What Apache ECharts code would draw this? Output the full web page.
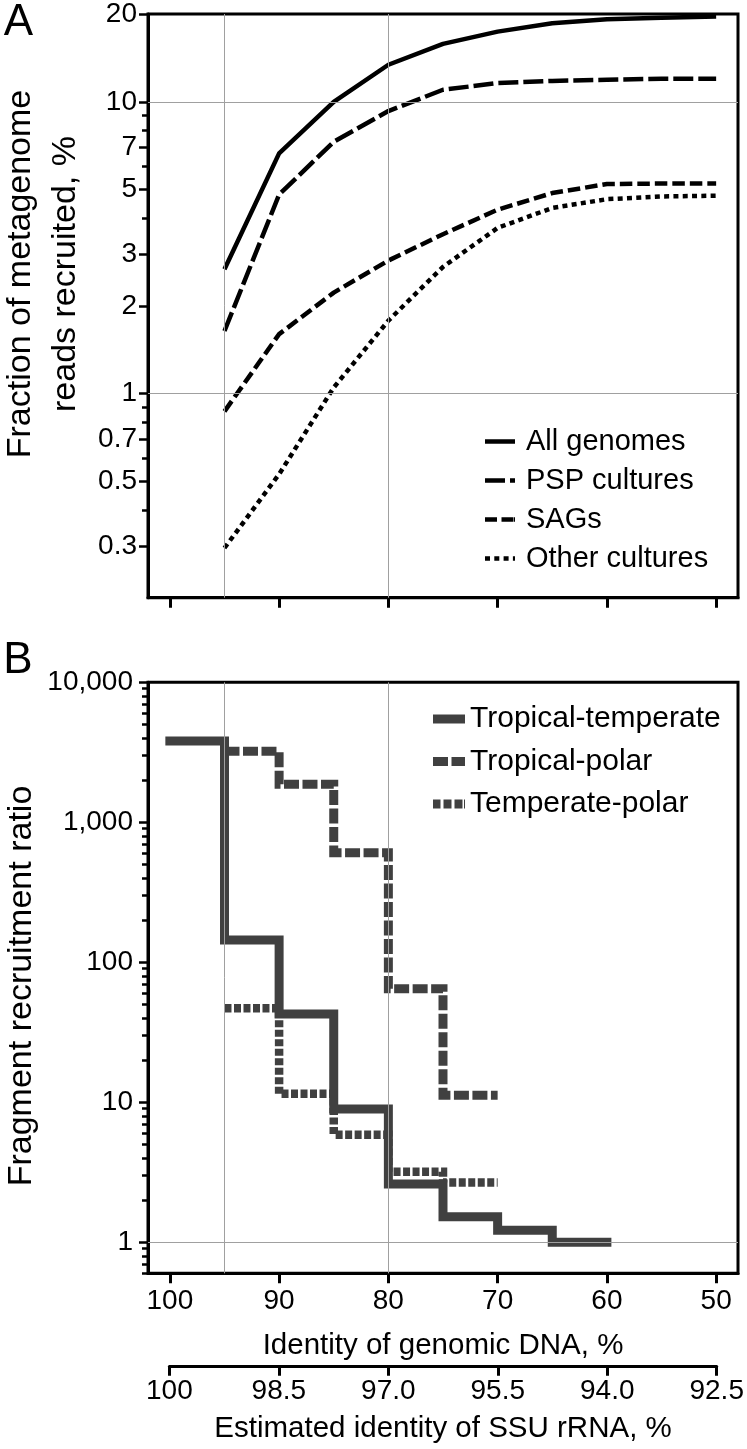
<!DOCTYPE html>
<html><head><meta charset="utf-8">
<script src="https://cdn.jsdelivr.net/npm/echarts@6/dist/echarts.min.js"></script>
<style>html,body{margin:0;padding:0;background:#fff}#c{width:747px;height:1449px}</style>
</head><body><div id="c"></div>
<script>
// ---------- Panel A data ----------
const identityA = [95, 90, 85, 80, 75, 70, 65, 60, 55, 50];
const allGenomes = [2.67, 6.66, 10.0, 13.4, 15.8, 17.4, 18.6, 19.2, 19.4, 19.6];
const pspCultures = [1.64, 4.81, 7.3, 9.3, 11.0, 11.6, 11.8, 11.9, 12.0, 12.0];
const sags = [0.87, 1.6, 2.22, 2.86, 3.52, 4.27, 4.87, 5.23, 5.25, 5.25];
const otherCultures = [0.296, 0.53, 1.05, 1.78, 2.72, 3.7, 4.33, 4.64, 4.74, 4.77];

// ---------- Panel B data (value of each 5% bin, bin starts listed) ----------
const ttBins = [100, 95, 90, 85, 80, 75, 70, 65];
const ttEnd = 60;
const tropicalTemperate = [3810, 144, 42.7, 8.96, 2.61, 1.52, 1.22, 1.0];
const polarBins = [95, 90, 85, 80, 75];
const polarEnd = 70;
const tropicalPolar = [3214, 1868, 606, 64.8, 11.2];
const temperatePolar = [46.9, 11.5, 5.87, 3.19, 2.67];

// ---------- Ticks / labels ----------
const xTicks = [100, 90, 80, 70, 60, 50];
const ssuTicks = [100, 98.5, 97, 95.5, 94, 92.5];
const yLabelsA = [0.3, 0.5, 0.7, 1, 2, 3, 5, 7, 10, 20];
const yMinorA = [0.4, 0.6, 0.8, 0.9, 4, 6, 8, 9];
const yLabelsB = [1, 10, 100, 1000, 10000];
const yMinorB = [0.6, 0.7, 0.8, 0.9, 2, 3, 4, 5, 6, 7, 8, 9, 20, 30, 40, 50, 60, 70, 80, 90,
  200, 300, 400, 500, 600, 700, 800, 900, 2000, 3000, 4000, 5000, 6000, 7000, 8000, 9000];

const FONT = "'Liberation Sans', Arial, Helvetica, sans-serif";
const INK = '#000';
const GREY = '#404040';
const GRID = '#a0a0a0';

function pairs(xs, ys) { return xs.map((x, i) => [x, ys[i]]); }
function stepData(bins, vals, end) {
  const d = pairs(bins, vals);
  d.push([end, vals[vals.length - 1]]);
  return d;
}
function fmtThousands(v) { return Math.round(v).toString().replace(/\B(?=(\d{3})+(?!\d))/g, ','); }

const axisLineStyle = { color: INK, width: 3 };

function xAxisBase(grid, showLabels) {
  return {
    gridIndex: grid, type: 'value', min: 48, max: 102, inverse: true, position: 'bottom',
    axisLine: { show: true, lineStyle: axisLineStyle },
    axisTick: { show: true, length: 10, lineStyle: { color: INK, width: 3 }, customValues: xTicks },
    axisLabel: { show: showLabels, customValues: xTicks, fontSize: 28, fontFamily: FONT, color: INK, margin: 14 },
    splitLine: { show: false }
  };
}
function yMajor(grid, min, max, labels, margin, fmt) {
  return {
    gridIndex: grid, type: 'log', logBase: 10, min: min, max: max, position: 'left',
    axisLine: { show: true, lineStyle: axisLineStyle },
    axisTick: { show: true, length: 9, lineStyle: { color: INK, width: 2.5 }, customValues: labels },
    axisLabel: { show: true, customValues: labels, fontSize: 28, fontFamily: FONT, color: INK, margin: margin, formatter: fmt },
    splitLine: { show: false }, minorTick: { show: false }
  };
}
function yMinor(grid, min, max, ticks) {
  return {
    gridIndex: grid, type: 'log', logBase: 10, min: min, max: max, position: 'left', offset: 0,
    axisLine: { show: false },
    axisTick: { show: true, length: 6, lineStyle: { color: INK, width: 2.5 }, customValues: ticks },
    axisLabel: { show: false }, splitLine: { show: false }
  };
}
function gridLines(xi, yi, marks) {
  return {
    type: 'line', xAxisIndex: xi, yAxisIndex: yi, data: [], z: 1, silent: true,
    markLine: { silent: true, symbol: ['none', 'none'], label: { show: false },
      lineStyle: { color: GRID, width: 1, type: 'solid' }, emphasis: { disabled: true }, data: marks }
  };
}
function lineA(name, vals, dash) {
  return {
    name: name, type: 'line', xAxisIndex: 0, yAxisIndex: 0, data: pairs(identityA, vals),
    symbol: 'none', showSymbol: false, z: 3,
    lineStyle: { color: INK, width: 4.5, type: dash, cap: 'butt', join: 'round' },
    itemStyle: { color: INK }, emphasis: { disabled: true }
  };
}
function stepB(name, data, dash, width, cap) {
  return {
    name: name, type: 'line', xAxisIndex: 1, yAxisIndex: 2, data: data, step: 'end',
    symbol: 'none', showSymbol: false, z: 3,
    lineStyle: { color: GREY, width: width, type: dash, cap: cap, join: 'miter' },
    itemStyle: { color: GREY }, emphasis: { disabled: true }
  };
}

// legend sample glyphs (dash patterns drawn as small filled bars)
const iconA = {
  'All genomes': 'path://M0,0H30V4.5H0Z',
  'PSP cultures': 'path://M0,0H20V4.5H0Z M25,0H30V4.5H25Z',
  'SAGs': 'path://M0,0H12V4.5H0Z M16.5,0H28.5V4.5H16.5Z M29,0H30V4.5H29Z',
  'Other cultures': 'path://M0,0H5V4.5H0Z M9.3,0H14.3V4.5H9.3Z M18.6,0H23.6V4.5H18.6Z M27.9,0H30V4.5H27.9Z'
};
const iconB = {
  'Tropical-temperate': 'path://M0,0H32V9H0Z',
  'Tropical-polar': 'path://M0,0H15V9H0Z M18.5,0H32V9H18.5Z',
  'Temperate-polar': 'path://M0,0H7.5V9H0Z M10.5,0H18.5V9H10.5Z M21.5,0H29.5V9H21.5Z M31,0H32V9H31Z'
};

const option = {
  animation: false,
  backgroundColor: '#fff',
  grid: [
    { left: 148, right: 9, top: 13.5, height: 584.2, show: true, borderColor: INK, borderWidth: 3, backgroundColor: 'transparent' },
    { left: 148, right: 9, top: 682.3, height: 591, show: true, borderColor: INK, borderWidth: 3, backgroundColor: 'transparent' },
    { left: 169.4, right: 30.3, top: 1365.7, height: 1 }
  ],
  xAxis: [
    xAxisBase(0, false),
    Object.assign(xAxisBase(1, true), {
      name: 'Identity of genomic DNA, %', nameLocation: 'middle', nameGap: 58,
      nameTextStyle: { fontSize: 29.5, fontFamily: FONT, color: INK }
    }),
    {
      gridIndex: 2, type: 'value', min: 92.5, max: 100, inverse: true, position: 'bottom',
      axisLine: { show: true, lineStyle: axisLineStyle },
      axisTick: { show: true, length: 9, lineStyle: { color: INK, width: 3 }, customValues: ssuTicks },
      axisLabel: { show: true, customValues: ssuTicks, fontSize: 28, fontFamily: FONT, color: INK, margin: 11,
        formatter: v => (v === 100 ? '100' : v.toFixed(1)) },
      splitLine: { show: false },
      name: 'Estimated identity of SSU rRNA, %', nameLocation: 'middle', nameGap: 47,
      nameTextStyle: { fontSize: 29.5, fontFamily: FONT, color: INK }
    }
  ],
  yAxis: [
    yMajor(0, 0.2, 20, yLabelsA, 11, v => String(v)),
    yMinor(0, 0.2, 20, yMinorA),
    yMajor(1, 0.6, 10000, yLabelsB, 15, v => fmtThousands(v)),
    yMinor(1, 0.6, 10000, yMinorB),
    { gridIndex: 2, type: 'value', show: false, min: 0, max: 1 }
  ],
  legend: [
    {
      data: Object.keys(iconA).map(n => ({ name: n, icon: iconA[n] })),
      orient: 'vertical', left: 485, top: 427, itemWidth: 30, itemHeight: 4.5, itemGap: 10,
      selectedMode: false, padding: 0,
      itemStyle: { color: INK, borderWidth: 0 },
      textStyle: { fontSize: 29, fontFamily: FONT, color: INK, padding: [0, 0, 0, 6] }
    },
    {
      data: Object.keys(iconB).map(n => ({ name: n, icon: iconB[n] })),
      orient: 'vertical', left: 433, top: 704, itemWidth: 32, itemHeight: 9, itemGap: 12.5,
      selectedMode: false, padding: 0,
      itemStyle: { color: GREY, borderWidth: 0 },
      textStyle: { fontSize: 30, fontFamily: FONT, color: INK }
    }
  ],
  graphic: [
    { type: 'text', x: 18.5, y: 23, style: { text: 'A', fontSize: 44, fontFamily: FONT, fill: INK, align: 'center', verticalAlign: 'middle' } },
    { type: 'text', x: 18, y: 661, style: { text: 'B', fontSize: 44, fontFamily: FONT, fill: INK, align: 'center', verticalAlign: 'middle' } },
    { type: 'text', x: 43.3, y: 274, rotation: Math.PI / 2,
      style: { text: 'Fraction of metagenome\nreads recruited, %', fontSize: 34, lineHeight: 45, fontFamily: FONT, fill: INK, align: 'center', verticalAlign: 'middle' } },
    { type: 'text', x: 22, y: 986, rotation: Math.PI / 2,
      style: { text: 'Fragment recruitment ratio', fontSize: 34, fontFamily: FONT, fill: INK, align: 'center', verticalAlign: 'middle' } }
  ],
  series: [
    gridLines(0, 0, [{ xAxis: 95 }, { xAxis: 80 }, { yAxis: 10 }, { yAxis: 1 }]),
    gridLines(1, 2, [{ xAxis: 95 }, { xAxis: 80 }, { yAxis: 1 }]),
    lineA('All genomes', allGenomes, 'solid'),
    lineA('PSP cultures', pspCultures, [20, 5]),
    lineA('SAGs', sags, [12.5, 5]),
    lineA('Other cultures', otherCultures, [5, 4.3]),
    stepB('Tropical-temperate', stepData(ttBins, tropicalTemperate, ttEnd), 'solid', 9, 'square'),
    stepB('Tropical-polar', stepData(polarBins, tropicalPolar, polarEnd), [15, 3.5], 9, 'butt'),
    stepB('Temperate-polar', stepData(polarBins, temperatePolar, polarEnd), [7, 2.5], 8.5, 'butt')
  ]
};
const chart = echarts.init(document.getElementById('c'));
chart.setOption(option);
</script>
</body></html>
